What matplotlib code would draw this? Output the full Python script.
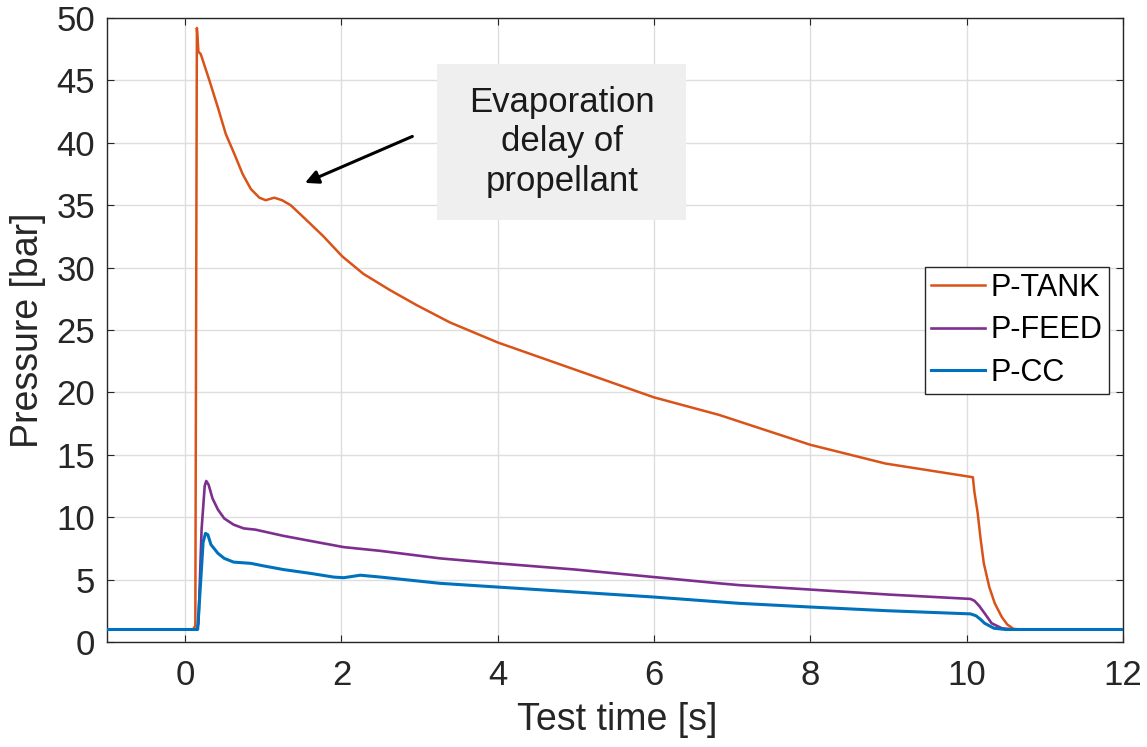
import matplotlib
matplotlib.use('Agg')
import matplotlib.pyplot as plt
from matplotlib.patches import Rectangle

plt.rcParams['font.family'] = ['Liberation Sans', 'DejaVu Sans']

# 数据
t_tank = [-1.0, 0.10, 0.13, 0.15, 0.17, 0.20, 0.31, 0.42, 0.52, 0.63, 0.735, 0.84, 0.95,
          1.03, 1.14, 1.24, 1.35, 1.52, 1.77, 2.01, 2.28, 2.62, 2.96, 3.39, 4.0, 5.0,
          6.0, 6.83, 8.0, 8.96, 10.08, 10.10, 10.14, 10.18, 10.22, 10.29, 10.36,
          10.45, 10.52, 10.60, 10.70, 12.0]
p_tank = [1.0, 1.0, 1.3, 49.2, 47.3, 47.1, 45.0, 42.8, 40.7, 39.1, 37.5, 36.3, 35.6,
          35.4, 35.6, 35.4, 35.0, 34.0, 32.5, 30.9, 29.5, 28.2, 27.0, 25.6, 24.0, 21.8,
          19.6, 18.2, 15.8, 14.3, 13.2, 12.0, 10.4, 8.2, 6.3, 4.4, 3.1,
          2.0, 1.4, 1.05, 1.0, 1.0]

t_feed = [-1.0, 0.15, 0.17, 0.21, 0.25, 0.27, 0.30, 0.35, 0.42, 0.50, 0.62, 0.75, 0.90,
          1.26, 1.60, 2.03, 2.50, 3.26, 4.0, 5.0, 6.0, 6.83, 7.08, 8.0, 9.0, 10.05,
          10.10, 10.16, 10.23, 10.32, 10.45, 10.60, 12.0]
p_feed = [1.0, 1.0, 1.5, 9.0, 12.5, 12.9, 12.6, 11.5, 10.6, 9.9, 9.4, 9.1, 9.0,
          8.5, 8.1, 7.6, 7.3, 6.7, 6.3, 5.8, 5.2, 4.7, 4.56, 4.2, 3.8, 3.45,
          3.3, 2.9, 2.3, 1.5, 1.1, 1.0, 1.0]

t_cc = [-1.0, 0.16, 0.19, 0.23, 0.26, 0.29, 0.33, 0.42, 0.50, 0.62, 0.84, 1.0, 1.26,
        1.60, 1.90, 2.03, 2.24, 2.50, 3.26, 4.0, 5.0, 6.0, 7.08, 8.0, 9.0, 10.05,
        10.12, 10.18, 10.23, 10.35, 10.50, 12.0]
p_cc = [1.0, 1.0, 4.0, 8.0, 8.7, 8.6, 7.8, 7.1, 6.7, 6.4, 6.3, 6.1, 5.8,
        5.5, 5.2, 5.15, 5.35, 5.2, 4.7, 4.4, 4.0, 3.6, 3.1, 2.8, 2.5, 2.25,
        2.1, 1.8, 1.5, 1.1, 1.0, 1.0]

labels = ['P-TANK', 'P-FEED', 'P-CC']
colors = ['#D95319', '#7E2F8E', '#0072BD']

fig = plt.figure(figsize=(11.47, 7.47), dpi=100)
ax = fig.add_axes([0.0933, 0.1406, 0.8857, 0.8353])

# 网格
ax.grid(True, color='#dedede', linewidth=1.0)
ax.set_axisbelow(True)

ax.plot(t_tank, p_tank, color=colors[0], linewidth=1.8, label=labels[0], zorder=3)
ax.plot(t_feed, p_feed, color=colors[1], linewidth=1.9, label=labels[1], zorder=3)
ax.plot(t_cc, p_cc, color=colors[2], linewidth=2.2, label=labels[2], zorder=3)

ax.set_xlim(-1, 12)
ax.set_ylim(0, 50)
ax.set_xticks(range(0, 13, 2))
ax.set_yticks(range(0, 51, 5))

for s in ax.spines.values():
    s.set_color('#262626')
    s.set_linewidth(1.0)
ax.tick_params(direction='in', length=5, width=0.8, colors='#262626',
               top=True, right=True, labelsize=25)
ax.tick_params(axis='x', pad=12)
ax.tick_params(axis='y', pad=8.5)

ax.set_xlabel('Test time [s]', fontsize=27, color='#262626')
ax.set_ylabel('Pressure [bar]', fontsize=27, color='#262626')
ax.xaxis.set_label_coords(0.502, -0.097)
ax.yaxis.set_label_coords(-0.060, 0.5)

# 注释框和箭头
ax.add_patch(Rectangle((3.22, 33.8), 3.19, 12.5, facecolor='#efefef',
                       edgecolor='none', zorder=2))
ax.text(4.82, 40.1, 'Evaporation\ndelay of\npropellant', ha='center', va='center',
        fontsize=25, linespacing=1.25, color='#1a1a1a', zorder=4)
ax.annotate('', xy=(1.50, 36.7), xytext=(2.94, 40.6),
            arrowprops=dict(arrowstyle='-|>', color='k', lw=2.2,
                            mutation_scale=20), zorder=4)

leg = ax.legend(loc='upper right', bbox_to_anchor=(0.986, 0.601), fontsize=22,
                fancybox=False, framealpha=1, edgecolor='#262626',
                handlelength=1.75, handletextpad=0.2, labelspacing=0.4,
                borderpad=0.2, borderaxespad=0)
leg.get_frame().set_linewidth(1.0)

plt.savefig('out.png', dpi=100)
